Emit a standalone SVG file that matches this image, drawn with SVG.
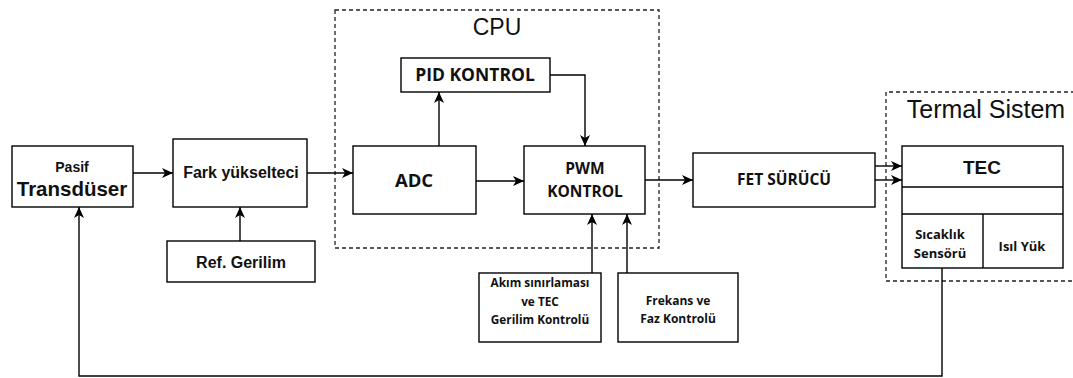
<svg xmlns="http://www.w3.org/2000/svg" width="1073" height="378" viewBox="0 0 1073 378">
<style>
.box{fill:#fff;stroke:#000;stroke-width:1.4}
.grp{fill:none;stroke:#222;stroke-width:1.3;stroke-dasharray:4 3}
.ar{fill:none;stroke:#000;stroke-width:1.4}
.a{font-family:"Liberation Sans",Arial,sans-serif;font-weight:bold;fill:#111;text-anchor:middle}
.c{font-family:"Open Sans","Noto Sans",sans-serif;font-weight:bold;fill:#111;text-anchor:middle}
.t{font-family:"Liberation Sans",Arial,sans-serif;fill:#111;text-anchor:middle}
</style>
<defs>
<marker id="ah" markerUnits="userSpaceOnUse" markerWidth="13" markerHeight="11" refX="11" refY="5" orient="auto">
<path d="M0,0 L11,5 L0,10 L3,5 z" fill="#000"/>
</marker>
</defs>
<g id="cpu-group">
<rect class="grp" x="335" y="10" width="324" height="238"/>
<text class="t" x="497" y="35" font-size="23">CPU</text>
</g>
<g id="termal-group">
<path class="grp" d="M1075,92 L886,92 L886,281 L1075,281"/>
<text class="t" x="986" y="118" font-size="25">Termal Sistem</text>
</g>
<g id="connectors">
<line class="ar" x1="133" y1="173" x2="173" y2="173" marker-end="url(#ah)"/>
<line class="ar" x1="240" y1="241" x2="240" y2="207" marker-end="url(#ah)"/>
<line class="ar" x1="307" y1="173" x2="353" y2="173" marker-end="url(#ah)"/>
<line class="ar" x1="439" y1="146" x2="439" y2="92" marker-end="url(#ah)"/>
<polyline class="ar" points="550,75 585,75 585,146" marker-end="url(#ah)"/>
<line class="ar" x1="476" y1="181" x2="524" y2="181" marker-end="url(#ah)"/>
<line class="ar" x1="645" y1="180" x2="693" y2="180" marker-end="url(#ah)"/>
<line class="ar" x1="875" y1="166" x2="902" y2="166" marker-end="url(#ah)"/>
<line class="ar" x1="875" y1="180" x2="902" y2="180" marker-end="url(#ah)"/>
<line class="ar" x1="592" y1="273" x2="592" y2="214" marker-end="url(#ah)"/>
<line class="ar" x1="627" y1="273" x2="627" y2="214" marker-end="url(#ah)"/>
<polyline class="ar" points="942,268 942,376 79,376 79,207" stroke="#333" marker-end="url(#ah)"/>
</g>
<g id="pasif-transduser">
<rect class="box" x="12" y="146" width="121" height="61"/>
<text class="a" x="72" y="172" font-size="14">Pasif</text>
<text class="a" x="72" y="196" font-size="20.5">Transdüser</text>
</g>
<g id="fark-yukselteci">
<rect class="box" x="173" y="139" width="134" height="68"/>
<text class="a" x="241" y="178" font-size="16">Fark yükselteci</text>
</g>
<g id="ref-gerilim">
<rect class="box" x="167" y="241" width="148" height="41"/>
<text class="a" x="241" y="268" font-size="16">Ref. Gerilim</text>
</g>
<g id="pid-kontrol">
<rect class="box" x="401" y="58" width="149" height="34"/>
<text class="c" x="475" y="81" font-size="17.5">PID KONTROL</text>
</g>
<g id="adc">
<rect class="box" x="353" y="146" width="123" height="68"/>
<text class="c" x="414" y="187" font-size="18.5">ADC</text>
</g>
<g id="pwm-kontrol">
<rect class="box" x="524" y="146" width="121" height="68"/>
<text class="c" x="585" y="174" font-size="15.5">PWM</text>
<text class="c" x="585" y="197" font-size="15.5">KONTROL</text>
</g>
<g id="fet-surucu">
<rect class="box" x="693" y="153" width="182" height="54"/>
<text class="c" x="784" y="185" font-size="15.5">FET SÜRÜCÜ</text>
</g>
<g id="akim-sinirlamasi">
<rect class="box" x="479" y="273" width="122" height="69"/>
<text class="c" x="540" y="287" font-size="11.8">Akım sınırlaması</text>
<text class="c" x="540" y="306" font-size="11.8">ve TEC</text>
<text class="c" x="540" y="324" font-size="11.8">Gerilim Kontrolü</text>
</g>
<g id="frekans-faz">
<rect class="box" x="618" y="273" width="120" height="69"/>
<text class="c" x="678" y="305" font-size="12">Frekans ve</text>
<text class="c" x="678" y="323" font-size="12">Faz Kontrolü</text>
</g>
<g id="tec">
<rect class="box" x="902" y="146" width="161" height="122"/>
<line class="ar" x1="902" y1="187" x2="1063" y2="187"/>
<line class="ar" x1="902" y1="214" x2="1063" y2="214"/>
<text class="a" x="982" y="174" font-size="19">TEC</text>
</g>
<g id="sicaklik-sensoru">
<line class="ar" x1="983" y1="214" x2="983" y2="268"/>
<text class="c" x="940" y="239" font-size="13">Sıcaklık</text>
<text class="c" x="940" y="258" font-size="13">Sensörü</text>
</g>
<g id="isil-yuk">
<text class="c" x="1022" y="251" font-size="13">Isıl Yük</text>
</g>
</svg>
